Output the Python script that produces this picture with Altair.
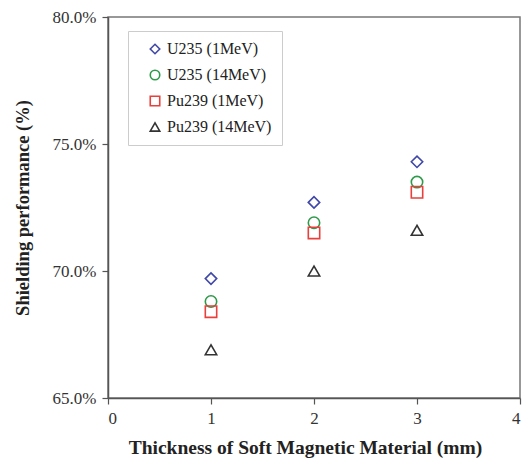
import altair as alt
import pandas as pd

thickness = [1, 2, 3]
series_names = ["U235 (1MeV)", "U235 (14MeV)", "Pu239 (1MeV)", "Pu239 (14MeV)"]
u235_1mev = [0.697, 0.727, 0.743]
u235_14mev = [0.688, 0.719, 0.735]
pu239_1mev = [0.684, 0.715, 0.731]
pu239_14mev = [0.669, 0.700, 0.716]

shapes = ["diamond", "circle", "square", "triangle-up"]
colors = ["#3F47A8", "#2E9A4A", "#E8403C", "#333333"]

rows = []
for name, vals in zip(series_names, [u235_1mev, u235_14mev, pu239_1mev, pu239_14mev]):
    for t, v in zip(thickness, vals):
        rows.append({"Thickness": t, "Performance": v, "Series": name})
df = pd.DataFrame(rows)

font = "Liberation Serif"

chart = alt.Chart(df).mark_point(filled=False, size=130, strokeWidth=1.6, opacity=1).encode(
    x=alt.X("Thickness:Q",
            scale=alt.Scale(domain=[0, 4], nice=False),
            axis=alt.Axis(values=[0, 1, 2, 3, 4], format="d",
                          title="Thickness of Soft Magnetic Material (mm)",
                          titlePadding=12, titleX=197, titleFontSize=19.5)),
    y=alt.Y("Performance:Q",
            scale=alt.Scale(domain=[0.65, 0.80], nice=False, zero=False),
            axis=alt.Axis(values=[0.65, 0.70, 0.75, 0.80], format=".1%",
                          title="Shielding performance (%)", titlePadding=20,
                          titleFontSize=18.5)),
    color=alt.Color("Series:N", sort=series_names,
                    scale=alt.Scale(domain=series_names, range=colors),
                    legend=alt.Legend(title=None, orient="none", legendX=20, legendY=14,
                                      padding=10, rowPadding=10, symbolOffset=9,
                                      strokeColor="#cccccc", fillColor="white",
                                      labelFont=font, labelFontSize=16, labelColor="#222",
                                      symbolStrokeWidth=1.6, symbolSize=90, labelLimit=400,
                                      labelExpr="datum.label + '\u2003\u2003\u2003'",
                                      offset=0)),
    shape=alt.Shape("Series:N", sort=series_names,
                    scale=alt.Scale(domain=series_names, range=shapes)),
).properties(
    width=412, height=381,
    autosize=alt.AutoSizeParams(type="none"),
    padding={"left": 100, "top": 9, "right": 4, "bottom": 62},
).configure_view(
    stroke="#777777", strokeWidth=1.5
).configure_axis(
    grid=False,
    domainColor="#555555", domainWidth=1.5,
    tickColor="#555555", tickWidth=1.2, tickSize=6,
    labelFont=font, labelFontSize=17, labelColor="#333333", labelPadding=6,
    titleFont=font, titleFontWeight="bold", titleColor="#222222",
)

chart.save("out.html", embed_options={"renderer": "svg", "actions": False})
